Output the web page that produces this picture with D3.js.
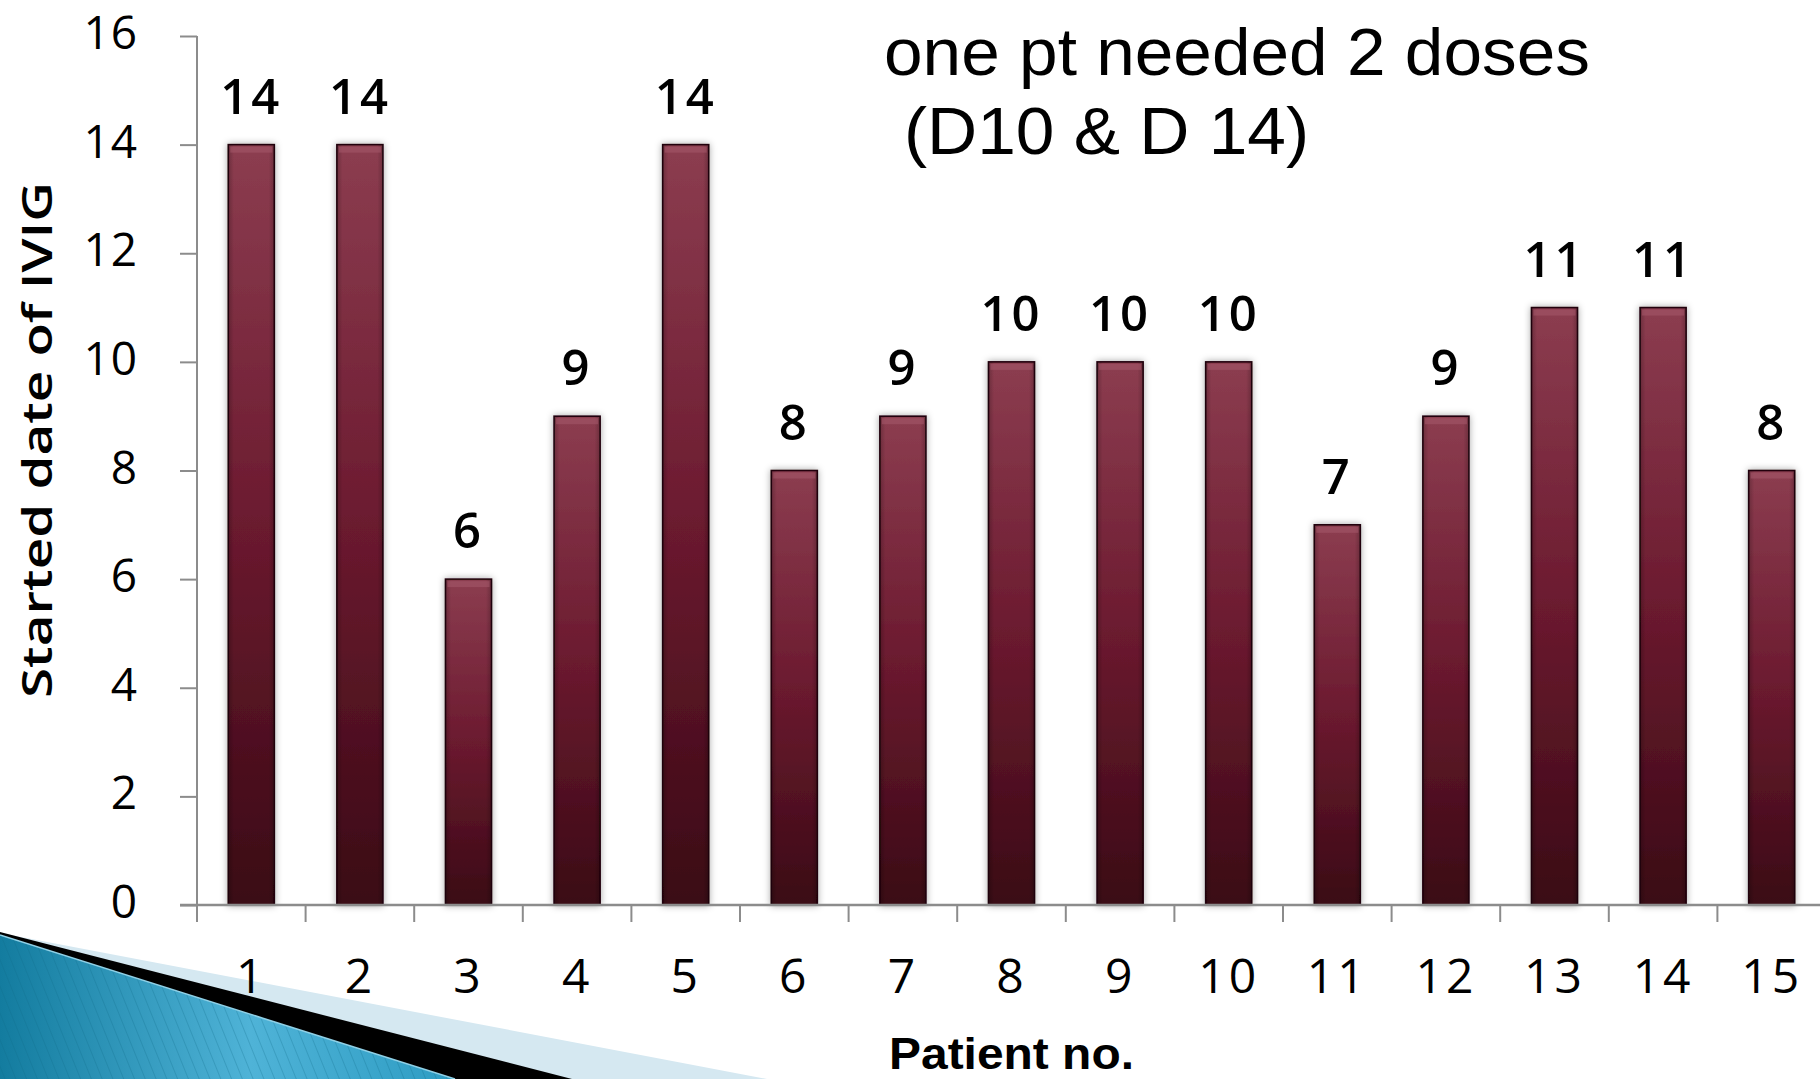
<!DOCTYPE html>
<html>
<head>
<meta charset="utf-8">
<script src="https://cdn.jsdelivr.net/npm/d3@7/dist/d3.min.js"></script>
<style>
  html, body { margin: 0; padding: 0; background: #ffffff; overflow: hidden; }
  svg { display: block; }
  text { font-family: "Open Sans", "Noto Sans", sans-serif; fill: #000; }
</style>
</head>
<body>
<svg id="chart" width="1820" height="1079"></svg>
<script>
// Patient number and the day IVIG was started
const patients = [1, 2, 3, 4, 5, 6, 7, 8, 9, 10, 11, 12, 13, 14, 15];
const startDay = [14, 14, 6, 9, 14, 8, 9, 10, 10, 10, 7, 9, 11, 11, 8];
const yTicks = [0, 2, 4, 6, 8, 10, 12, 14, 16];
const noteLines = ["one pt needed 2 doses", "(D10 & D 14)"];
const yTitle = "Started date of IVIG";
const xTitle = "Patient no.";

const W = 1820, H = 1079;
const svg = d3.select("#chart");
const defs = svg.append("defs");

// Plot frame
const x0 = 197, x1 = 197 + 15 * 108.6;
const yTop = 36, yBase = 905;

const x = d3.scaleBand()
  .domain(patients)
  .range([x0, x1])
  .paddingInner(0.576)
  .paddingOuter(0.288);

const y = d3.scaleLinear().domain([0, 16]).range([yBase, yTop]);

// ---- decorative corner wedge (bottom-left) ----
const blueGrad = defs.append("linearGradient").attr("id", "wedgeBlue")
  .attr("x1", "0").attr("y1", "0").attr("x2", "1").attr("y2", "0");
blueGrad.append("stop").attr("offset", "0").attr("stop-color", "#137c9f");
blueGrad.append("stop").attr("offset", "0.55").attr("stop-color", "#4fb3d7");
blueGrad.append("stop").attr("offset", "1").attr("stop-color", "#2d9cc3");

const stripes = defs.append("pattern").attr("id", "wedgeStripes")
  .attr("patternUnits", "userSpaceOnUse")
  .attr("width", 10).attr("height", 10)
  .attr("patternTransform", "rotate(-22)");
stripes.append("line")
  .attr("x1", 0).attr("y1", 0).attr("x2", 0).attr("y2", 10)
  .attr("stroke", "#0d6a8a").attr("stroke-width", 1.2).attr("stroke-opacity", 0.45);

const deco = svg.append("g").attr("class", "corner");
deco.append("polygon")
  .attr("points", [[0, 933], [767, 1079], [0, 1079]].join(" "))
  .attr("fill", "#d5e8f1");
deco.append("polygon")
  .attr("points", [[0, 932], [572, 1079], [0, 1079]].join(" "))
  .attr("fill", "#000");
deco.append("polygon")
  .attr("points", [[0, 935], [455, 1079], [0, 1079]].join(" "))
  .attr("fill", "url(#wedgeBlue)");
deco.append("polygon")
  .attr("points", [[0, 935], [455, 1079], [0, 1079]].join(" "))
  .attr("fill", "url(#wedgeStripes)");
deco.append("line")
  .attr("x1", 0).attr("y1", 935).attr("x2", 455).attr("y2", 1079)
  .attr("stroke", "#8fd0e6").attr("stroke-width", 1.5);

// ---- bar styling ----
const barGrad = defs.append("linearGradient").attr("id", "barFill")
  .attr("x1", "0").attr("y1", "0").attr("x2", "0").attr("y2", "1");
barGrad.append("stop").attr("offset", "0").attr("stop-color", "#8c3d50");
barGrad.append("stop").attr("offset", "0.5").attr("stop-color", "#6b1a2f");
barGrad.append("stop").attr("offset", "1").attr("stop-color", "#3a0915");

const edgeGrad = defs.append("linearGradient").attr("id", "barEdge")
  .attr("x1", "0").attr("y1", "0").attr("x2", "1").attr("y2", "0");
edgeGrad.append("stop").attr("offset", "0").attr("stop-color", "#000").attr("stop-opacity", 0.22);
edgeGrad.append("stop").attr("offset", "0.12").attr("stop-color", "#000").attr("stop-opacity", 0);
edgeGrad.append("stop").attr("offset", "0.88").attr("stop-color", "#000").attr("stop-opacity", 0);
edgeGrad.append("stop").attr("offset", "1").attr("stop-color", "#000").attr("stop-opacity", 0.22);

const shadow = defs.append("filter").attr("id", "barShadow")
  .attr("x", "-40%").attr("y", "-10%").attr("width", "180%").attr("height", "120%");
shadow.append("feDropShadow")
  .attr("dx", 0).attr("dy", 0).attr("stdDeviation", 3.5)
  .attr("flood-color", "#000").attr("flood-opacity", 0.35);

// ---- axes ----
const axisColor = "#8c8c8c";

const yAxis = svg.append("g")
  .attr("transform", `translate(${x0},0)`)
  .call(d3.axisLeft(y).tickValues(yTicks).tickSize(17).tickPadding(42).tickFormat(d3.format("d")));
yAxis.select(".domain").remove();
yAxis.selectAll(".tick line").attr("stroke", axisColor).attr("stroke-width", 2);
yAxis.selectAll(".tick text")
  .attr("font-size", 46).attr("dy", "0.36em").attr("y", -4)
  .attr("letter-spacing", 1)
  .attr("font-family", "'Liberation Sans', Arial, sans-serif")
  .attr("fill", "#000");
svg.append("line")
  .attr("x1", x0).attr("x2", x0).attr("y1", y(16)).attr("y2", y(0))
  .attr("stroke", axisColor).attr("stroke-width", 2);

// category boundary ticks along the baseline
const bounds = d3.range(patients.length + 1).map(i => x.range()[0] + i * x.step());
svg.append("g").selectAll("line").data(bounds).join("line")
  .attr("x1", d => d).attr("x2", d => d)
  .attr("y1", yBase).attr("y2", yBase + 17)
  .attr("stroke", axisColor).attr("stroke-width", 2);

const xAxis = svg.append("g")
  .attr("transform", `translate(0,${yBase})`)
  .call(d3.axisBottom(x).tickSize(0).tickPadding(0));
xAxis.select(".domain").remove();
xAxis.selectAll(".tick text")
  .attr("font-size", 48).attr("y", 88).attr("dy", 0)
  .attr("letter-spacing", 3)
  .attr("font-family", "'Open Sans', sans-serif")
  .attr("fill", "#000");

// ---- bars ----
const bars = svg.append("g");
const barG = bars.selectAll("g").data(patients).join("g");
barG.append("rect")
  .attr("x", d => x(d))
  .attr("y", (d, i) => y(startDay[i]))
  .attr("width", x.bandwidth())
  .attr("height", (d, i) => y(0) - y(startDay[i]))
  .attr("fill", "url(#barFill)")
  .attr("stroke", "#24050d").attr("stroke-width", 1.6)
  .attr("filter", "url(#barShadow)");
barG.append("rect")
  .attr("x", d => x(d))
  .attr("y", (d, i) => y(startDay[i]))
  .attr("width", x.bandwidth())
  .attr("height", (d, i) => y(0) - y(startDay[i]))
  .attr("fill", "url(#barEdge)");
// bevel highlight along each bar top
barG.append("rect")
  .attr("x", d => x(d) + 2)
  .attr("y", (d, i) => y(startDay[i]) + 2)
  .attr("width", x.bandwidth() - 4)
  .attr("height", 6)
  .attr("fill", "#a55a6c").attr("opacity", 0.55);

// baseline drawn over the bar bottoms
svg.append("line")
  .attr("x1", 180).attr("x2", W)
  .attr("y1", yBase).attr("y2", yBase)
  .attr("stroke", axisColor).attr("stroke-width", 2.5);

// value labels
svg.append("g").selectAll("text").data(patients).join("text")
  .attr("x", d => x(d) + x.bandwidth() / 2)
  .attr("y", (d, i) => y(startDay[i]) - 31)
  .attr("text-anchor", "middle")
  .attr("font-size", 49).attr("font-weight", 600)
  .attr("letter-spacing", 3)
  .text((d, i) => startDay[i]);

// axis titles
svg.append("text")
  .attr("transform", "translate(52,440) rotate(-90)")
  .attr("text-anchor", "middle")
  .attr("font-size", 42).attr("font-weight", 600)
  .attr("textLength", 516).attr("lengthAdjust", "spacingAndGlyphs")
  .text(yTitle);

svg.append("text")
  .attr("x", (x.range()[0] + x.range()[1]) / 2)
  .attr("y", 1069)
  .attr("text-anchor", "middle")
  .attr("font-size", 44).attr("font-weight", 700)
  .style("font-family", "'Liberation Sans', Arial, sans-serif")
  .attr("textLength", 245).attr("lengthAdjust", "spacingAndGlyphs")
  .text(xTitle);

// annotation
const note = svg.append("g");
note.append("text").attr("x", 884).attr("y", 75)
  .attr("font-size", 67)
  .style("font-family", "'Liberation Sans', Arial, sans-serif")
  .attr("textLength", 706).attr("lengthAdjust", "spacingAndGlyphs")
  .text(noteLines[0]);
note.append("text").attr("x", 904).attr("y", 154)
  .attr("font-size", 67)
  .style("font-family", "'Liberation Sans', Arial, sans-serif")
  .attr("textLength", 405).attr("lengthAdjust", "spacingAndGlyphs")
  .text(noteLines[1]);
</script>
</body>
</html>
